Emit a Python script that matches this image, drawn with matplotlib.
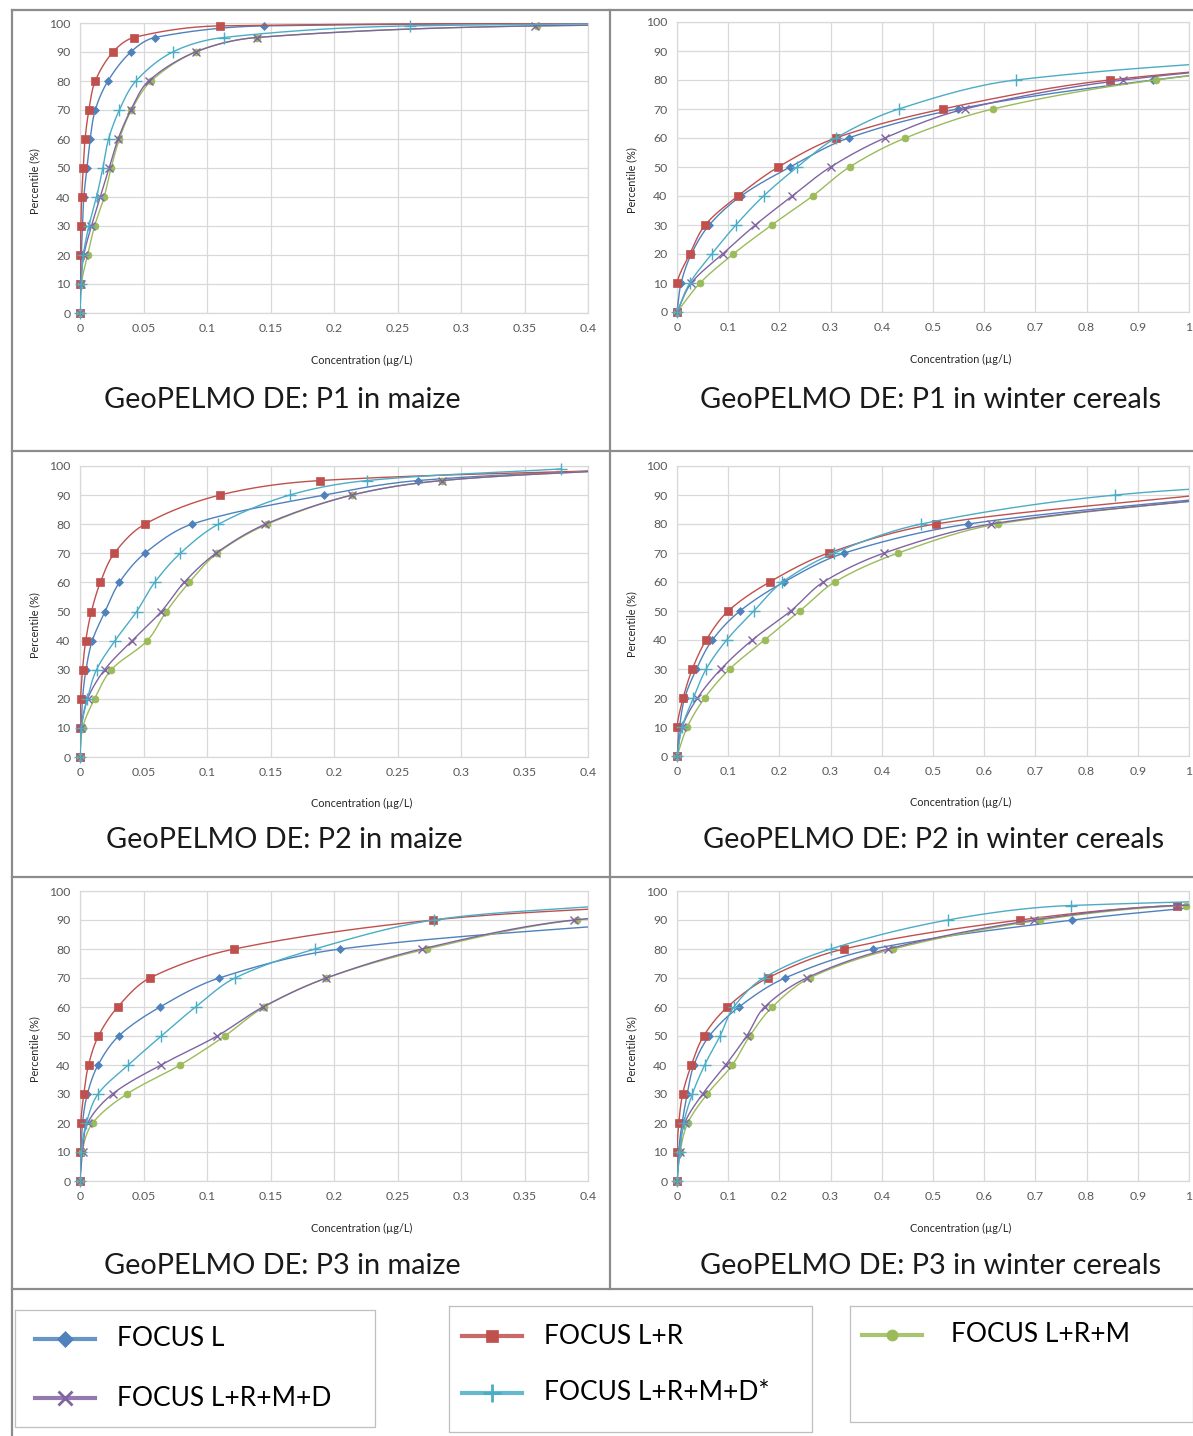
import numpy as np
import matplotlib
matplotlib.use("Agg")
import matplotlib.pyplot as plt

plt.rcParams['font.family'] = ['Lato', 'DejaVu Sans']

W, H = 1193, 1436

# ---------------------------------------------------------------- series
series_names = ["FOCUS L", "FOCUS L+R", "FOCUS L+R+M", "FOCUS L+R+M+D", "FOCUS L+R+M+D*"]
series_colors = ["#4F81BD", "#C0504D", "#9BBB59", "#8064A2", "#4BACC6"]
series_markers = ["D", "s", "o", "x", "+"]
marker_sizes = [4.0, 5.5, 5.0, 6.0, 8.0]

# percentile levels, in order; each series uses as many as it has values
pct_maize_p1 = [0, 10, 20, 30, 40, 50, 60, 70, 80, 90, 95, 99, 100]
pct_winter_p1 = [0, 10, 20, 30, 40, 50, 60, 70, 80, 90]
pct_maize_p2 = [0, 10, 20, 30, 40, 50, 60, 70, 80, 90, 95, 99]
pct_winter_p2 = [0, 10, 20, 30, 40, 50, 60, 70, 80, 90, 95]
pct_maize_p3 = [0, 10, 20, 30, 40, 50, 60, 70, 80, 90, 95]
pct_winter_p3 = [0, 10, 20, 30, 40, 50, 60, 70, 80, 90, 95, 99]

# concentrations (µg/L) at each percentile
p1_maize_L = [0, 0.0003, 0.001, 0.002, 0.003, 0.0055, 0.008, 0.012, 0.022, 0.040, 0.059, 0.145, 0.8]
p1_maize_LR = [0, 0.0, 0.0003, 0.0007, 0.0013, 0.0026, 0.004, 0.007, 0.012, 0.026, 0.0424, 0.110, 0.8]
p1_maize_LRM = [0, 0.001, 0.006, 0.0115, 0.019, 0.0245, 0.031, 0.0405, 0.056, 0.091, 0.139, 0.360, 0.9]
p1_maize_LRMD = [0, 0.0005, 0.003, 0.009, 0.016, 0.023, 0.030, 0.040, 0.054, 0.091, 0.139, 0.358, 0.9]
p1_maize_LRMDs = [0, 0.001, 0.0026, 0.007, 0.013, 0.018, 0.0225, 0.031, 0.044, 0.073, 0.113, 0.260, 0.8]

p1_winter_L = [0, 0.008, 0.028, 0.063, 0.125, 0.221, 0.335, 0.548, 0.930, 1.45]
p1_winter_LR = [0, 0.0, 0.025, 0.055, 0.119, 0.198, 0.310, 0.519, 0.845, 1.55]
p1_winter_LRM = [0, 0.045, 0.110, 0.185, 0.265, 0.337, 0.446, 0.617, 0.935, 1.50]
p1_winter_LRMD = [0, 0.028, 0.089, 0.153, 0.225, 0.300, 0.406, 0.562, 0.872, 1.50]
p1_winter_LRMDs = [0, 0.025, 0.068, 0.115, 0.169, 0.235, 0.310, 0.433, 0.662, 1.40]

p2_maize_L = [0, 0.001, 0.002, 0.0047, 0.0097, 0.0197, 0.031, 0.051, 0.088, 0.192, 0.266, 0.44]
p2_maize_LR = [0, 0.0, 0.0005, 0.002, 0.0045, 0.009, 0.016, 0.027, 0.051, 0.110, 0.189, 0.46]
p2_maize_LRM = [0, 0.002, 0.0115, 0.0247, 0.053, 0.068, 0.086, 0.108, 0.1475, 0.214, 0.285, 0.44]
p2_maize_LRMD = [0, 0.001, 0.006, 0.0194, 0.041, 0.064, 0.082, 0.107, 0.146, 0.214, 0.285, 0.44]
p2_maize_LRMDs = [0, 0.001, 0.0058, 0.013, 0.0276, 0.0446, 0.0588, 0.079, 0.109, 0.165, 0.226, 0.379]

p2_winter_L = [0, 0.005, 0.015, 0.038, 0.069, 0.123, 0.209, 0.327, 0.569, 1.10]
p2_winter_LR = [0, 0.0, 0.012, 0.030, 0.057, 0.100, 0.181, 0.296, 0.505, 1.02]
p2_winter_LRM = [0, 0.020, 0.054, 0.103, 0.171, 0.240, 0.308, 0.432, 0.626, 1.12]
p2_winter_LRMD = [0, 0.010, 0.040, 0.086, 0.147, 0.222, 0.286, 0.405, 0.613, 1.12]
p2_winter_LRMDs = [0, 0.010, 0.032, 0.057, 0.097, 0.150, 0.206, 0.307, 0.477, 0.856, 1.35]

p3_maize_L = [0, 0.001, 0.002, 0.0058, 0.0142, 0.0305, 0.063, 0.1096, 0.205, 0.47]
p3_maize_LR = [0, 0.0, 0.0006, 0.003, 0.0067, 0.0145, 0.0297, 0.055, 0.1215, 0.278, 0.45]
p3_maize_LRM = [0, 0.0015, 0.010, 0.037, 0.0788, 0.114, 0.145, 0.194, 0.273, 0.391, 0.60]
p3_maize_LRMD = [0, 0.002, 0.006, 0.0256, 0.0637, 0.108, 0.144, 0.194, 0.269, 0.389, 0.60]
p3_maize_LRMDs = [0, 0.001, 0.005, 0.0142, 0.038, 0.064, 0.091, 0.122, 0.185, 0.2785, 0.415]

p3_winter_L = [0, 0.003, 0.010, 0.020, 0.033, 0.063, 0.121, 0.211, 0.383, 0.772, 1.05]
p3_winter_LR = [0, 0.0, 0.0035, 0.011, 0.028, 0.052, 0.0985, 0.177, 0.326, 0.670, 0.977, 2.0]
p3_winter_LRM = [0, 0.006, 0.021, 0.059, 0.108, 0.142, 0.186, 0.259, 0.422, 0.709, 0.994, 2.0]
p3_winter_LRMD = [0, 0.005, 0.015, 0.050, 0.095, 0.136, 0.171, 0.253, 0.412, 0.697, 0.977, 2.0]
p3_winter_LRMDs = [0, 0.005, 0.013, 0.030, 0.054, 0.084, 0.111, 0.169, 0.300, 0.529, 0.769, 1.9]

panel_titles = ["GeoPELMO DE: P1 in maize", "GeoPELMO DE: P1 in winter cereals",
                "GeoPELMO DE: P2 in maize", "GeoPELMO DE: P2 in winter cereals",
                "GeoPELMO DE: P3 in maize", "GeoPELMO DE: P3 in winter cereals"]

panel_data = [
    (pct_maize_p1, [p1_maize_L, p1_maize_LR, p1_maize_LRM, p1_maize_LRMD, p1_maize_LRMDs]),
    (pct_winter_p1, [p1_winter_L, p1_winter_LR, p1_winter_LRM, p1_winter_LRMD, p1_winter_LRMDs]),
    (pct_maize_p2, [p2_maize_L, p2_maize_LR, p2_maize_LRM, p2_maize_LRMD, p2_maize_LRMDs]),
    (pct_winter_p2, [p2_winter_L, p2_winter_LR, p2_winter_LRM, p2_winter_LRMD, p2_winter_LRMDs]),
    (pct_maize_p3, [p3_maize_L, p3_maize_LR, p3_maize_LRM, p3_maize_LRMD, p3_maize_LRMDs]),
    (pct_winter_p3, [p3_winter_L, p3_winter_LR, p3_winter_LRM, p3_winter_LRMD, p3_winter_LRMDs]),
]

# ---------------------------------------------------------------- layout (pixels)
plot_boxes = [(80, 23, 588, 313), (677, 22, 1189, 312),
              (80, 466, 588, 757), (677, 466, 1189, 756),
              (80, 891, 588, 1181), (677, 891, 1189, 1181)]
x_max = [0.4, 1.0, 0.4, 1.0, 0.4, 1.0]
x_step = [0.05, 0.1, 0.05, 0.1, 0.05, 0.1]
title_pos = [(282, 400), (931, 400), (284, 840), (934, 840), (282, 1266), (931, 1266)]
xlabel_y = [360, 359, 803, 802, 1228, 1228]


def smooth_curve(xs, ys, sx, sy, n=30):
    """Bezier smoothing in screen space, control arms scaled by chord lengths."""
    P = np.column_stack([np.asarray(xs, float) * sx, np.asarray(ys, float) * sy])
    Pe = np.vstack([P[0], P, P[-1]])
    t = np.linspace(0, 1, n)[1:, None]
    out = [P[:1]]
    for i in range(1, len(Pe) - 2):
        p0, p1, p2, p3 = Pe[i - 1], Pe[i], Pe[i + 1], Pe[i + 2]
        d01 = np.hypot(*(p1 - p0))
        d12 = np.hypot(*(p2 - p1))
        d23 = np.hypot(*(p3 - p2))
        r1 = d12 / (d01 + d12) if d01 + d12 > 0 else 0
        r2 = d12 / (d12 + d23) if d12 + d23 > 0 else 0
        b1 = p1 + (p2 - p0) * r1 / 3.0
        b2 = p2 - (p3 - p1) * r2 / 3.0
        seg = ((1 - t) ** 3) * p1 + 3 * ((1 - t) ** 2) * t * b1 + 3 * (1 - t) * t ** 2 * b2 + t ** 3 * p2
        out.append(seg)
    C = np.vstack(out)
    return C[:, 0] / sx, C[:, 1] / sy


fig = plt.figure(figsize=(W / 100, H / 100), dpi=100)
fig.patch.set_facecolor("white")

grid_c = "#D9D9D9"
tick_c = "#595959"

for k, (x0, y0, x1, y1) in enumerate(plot_boxes):
    ax = fig.add_axes([x0 / W, 1 - y1 / H, (x1 - x0) / W, (y1 - y0) / H])
    xm = x_max[k]
    ax.set_xlim(0, xm)
    ax.set_ylim(0, 100)
    xt = np.round(np.arange(0, xm + 1e-9, x_step[k]), 2)
    ax.set_xticks(xt)
    ax.set_xticklabels(["%g" % v for v in xt])
    ax.set_yticks(np.arange(0, 101, 10))
    ax.tick_params(length=0, labelsize=8.8, colors=tick_c, pad=7)
    ax.grid(True, color=grid_c, lw=0.9)
    ax.set_axisbelow(True)
    for sp in ax.spines.values():
        sp.set_color(grid_c)
        sp.set_linewidth(0.9)

    sx = (x1 - x0) / xm
    sy = (y1 - y0) / 100.0
    pcts, groups = panel_data[k]
    for j, xs in enumerate(groups):
        ys = pcts[:len(xs)]
        cx, cy = smooth_curve(xs, ys, sx, sy)
        ax.plot(cx, cy, color=series_colors[j], lw=1.0, zorder=3 + j)
        xs_a = np.asarray(xs)
        ys_a = np.asarray(ys)
        inside = xs_a <= xm * 1.001
        mk = series_markers[j]
        ax.plot(xs_a[inside], ys_a[inside], ls="none", marker=mk,
                ms=marker_sizes[j], color=series_colors[j],
                mew=1.0 if mk in "x+" else 0.5, clip_on=False, zorder=3 + j)

    ax.text(-45 / (x1 - x0), 0.455, "Percentile (%)", transform=ax.transAxes,
            rotation=90, ha="center", va="center", fontsize=7.8, color="#262626")
    ax.text(0.555, -(xlabel_y[k] - y1) / (y1 - y0), "Concentration (µg/L)",
            transform=ax.transAxes, ha="center", va="center", fontsize=7.8, color="#262626")

# ---------------------------------------------------------------- overlay: frames, titles, legends
ov = fig.add_axes([0, 0, 1, 1], zorder=10)
ov.set_xlim(0, W)
ov.set_ylim(H, 0)
ov.axis("off")
ov.patch.set_alpha(0)

frame_c = "#8C8C8C"
ov.plot([12, W], [10, 10], color=frame_c, lw=1.6)
ov.plot([12, 12], [10, H], color=frame_c, lw=1.6)
ov.plot([610, 610], [10, 1289], color=frame_c, lw=1.6)
for yy in (451, 877, 1289):
    ov.plot([12, W], [yy, yy], color=frame_c, lw=1.6)

for k, (tx, ty) in enumerate(title_pos):
    ov.text(tx, ty, panel_titles[k], ha="center", va="center", fontsize=20.8, color="#1a1a1a")

box_c = "#BFBFBF"
for (bx0, by0, bx1, by1) in [(15, 1310, 375, 1427), (449, 1306, 812, 1432), (850, 1306, 1193, 1422)]:
    ov.plot([bx0, bx1, bx1, bx0, bx0], [by0, by0, by1, by1, by0], color=box_c, lw=0.9)

legend_slots = [(35, 1339), (462, 1336), (862, 1335), (35, 1398), (462, 1393)]
legend_ms = [8, 9, 8, 10, 13]
for j, (lx, ly) in enumerate(legend_slots):
    ov.plot([lx, lx + 60], [ly, ly], color=series_colors[j], lw=3.0, alpha=0.85)
    mk = series_markers[j]
    ov.plot([lx + 30], [ly], ls="none", marker=mk, ms=legend_ms[j], color=series_colors[j],
            mew=2.0 if mk in "x+" else 0.5)
    ov.text(lx + 82 if j != 2 else lx + 89, ly, series_names[j], ha="left", va="center",
            fontsize=19, color="#000000")

fig.savefig("out.png", dpi=100, facecolor="white")
